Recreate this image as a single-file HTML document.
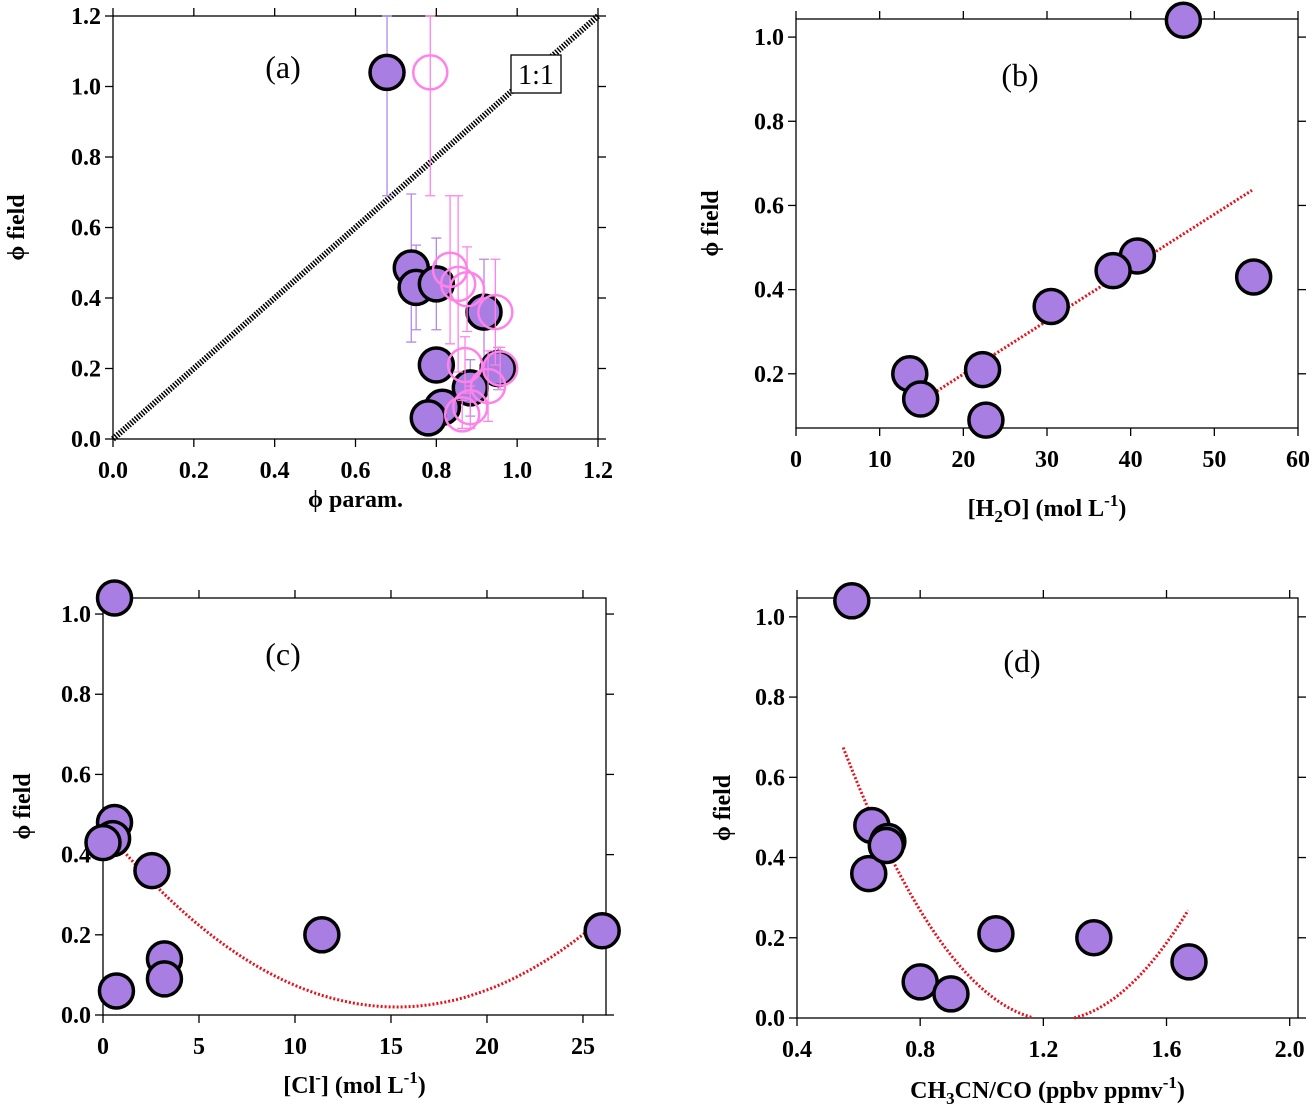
<!DOCTYPE html>
<html><head><meta charset="utf-8"><style>
body{margin:0;background:#fff}
svg{display:block;font-family:"Liberation Serif",serif}
.tl{font-size:24px;font-weight:bold}
.at{font-size:24px;font-weight:bold}
.pl{font-size:32px}
</style></head><body>
<svg id="s" width="1314" height="1114" xmlns="http://www.w3.org/2000/svg"></svg>
<script>
// Panel a data
const aFilledX=[0.678,0.738,0.75,0.80,0.80,0.815,0.78,0.884,0.918,0.953];
const aFilledY=[1.04,0.485,0.43,0.44,0.21,0.09,0.06,0.145,0.36,0.20];
const aFilledErr=[0.35,0.21,0.12,0.13,0.05,0.03,0.03,0.08,0.15,0.06];
const aOpenX=[0.785,0.834,0.854,0.876,0.946,0.871,0.864,0.928,0.958,0.884];
const aOpenY=[1.04,0.48,0.44,0.425,0.36,0.21,0.07,0.15,0.20,0.09];
const aOpenErr=[0.35,0.21,0.25,0.12,0.15,0.08,0.04,0.1,0.06,0.06];
// Panel b
const bX=[46.3,54.7,40.8,37.9,30.5,22.3,22.7,13.6,14.9];
const bY=[1.04,0.43,0.48,0.445,0.36,0.21,0.09,0.20,0.14];
const bFit=[[13.6,0.118],[54.5,0.636]];
// Panel c
const cX=[0.6,0.6,0.5,0,2.55,11.4,26,3.2,3.2,0.7];
const cY=[1.04,0.48,0.44,0.43,0.36,0.20,0.21,0.14,0.09,0.06];
const cFit=[0.00192,15.3,0.02];
// Panel d
const dX=[0.578,0.643,0.633,0.695,0.69,1.046,1.364,1.673,0.80,0.90];
const dY=[1.04,0.48,0.36,0.44,0.43,0.21,0.20,0.14,0.09,0.06];
const dFit=[1.45,1.235,-0.006];

const S=document.getElementById('s');const NS='http://www.w3.org/2000/svg';
function el(t,a,p){const e=document.createElementNS(NS,t);for(const k in a)e.setAttribute(k,a[k]);(p||S).appendChild(e);return e;}
function panel(o){
 const g=el('g',{});
 
 
 const sx=v=>o.L+(v-o.x0)/(o.x1-o.x0)*(o.R-o.L);
 const sy=v=>o.B-(v-o.y0)/(o.y1-o.y0)*(o.B-o.T);
 const f=el('rect',{x:o.L,y:o.T,width:o.R-o.L,height:o.B-o.T,fill:'none',stroke:'#000','stroke-width':1.3},g);
 
 o.xt.forEach(v=>{const x=sx(v);
  el('line',{x1:x,x2:x,y1:o.B,y2:o.B+8,stroke:'#000','stroke-width':1.3},g);
  el('line',{x1:x,x2:x,y1:o.T,y2:o.T-8,stroke:'#000','stroke-width':1.3},g);
  const t=el('text',{x:x,y:o.B+39,'text-anchor':'middle',class:'tl'},g);t.textContent=o.xf(v);
  });
 o.yt.forEach(v=>{const y=sy(v);
  el('line',{x1:o.L,x2:o.L-8,y1:y,y2:y,stroke:'#000','stroke-width':1.3},g);
  el('line',{x1:o.R,x2:o.R+8,y1:y,y2:y,stroke:'#000','stroke-width':1.3},g);
  const t=el('text',{x:o.L-12,y:y+8,'text-anchor':'end',class:'tl'},g);t.textContent=v.toFixed(1);
  });
 const yl=el('text',{transform:`translate(${o.yx},${(o.T+o.B)/2}) rotate(-90)`,'text-anchor':'middle',class:'at'},g);
 yl.textContent='ϕ field';
 const xl=el('text',{x:(o.L+o.R)/2,y:o.B+o.xly,'text-anchor':'middle',class:'at'},g);
 xl.innerHTML=o.xlab;
 const pl=el('text',{x:o.plx,y:o.ply,'text-anchor':'middle',class:'pl'},g);pl.textContent='('+o.id+')';
 
 return {g,sx,sy};
}
function dot(g,x,y,name){const c=el('circle',{cx:x,cy:y,r:17,fill:'#a97ee3',stroke:'#000','stroke-width':3.5},g);
 }
function curve(g,sx,sy,fn,a,b,name,clip){let d='';let pen=false;for(let i=0;i<=200;i++){const x=a+(b-a)*i/200,y=fn(x);
 if(y<clip){pen=false;continue;}d+=(pen?'L':'M')+sx(x).toFixed(1)+','+sy(y).toFixed(1);pen=true;}
 const p=el('path',{d,fill:'none',stroke:'#e8101a','stroke-width':3,'stroke-dasharray':'2 2'},g);
 }

// (a)
let P=panel({id:'a',L:113,R:598,T:16,B:439,x0:0,x1:1.2,y0:0,y1:1.2,xt:[0,0.2,0.4,0.6,0.8,1.0,1.2],yt:[0,0.2,0.4,0.6,0.8,1.0,1.2],xf:v=>v.toFixed(1),yx:24,xly:68,xlab:'ϕ param.',plx:283,ply:78});
const PA=P;
let l=el('line',{x1:P.sx(0),y1:P.sy(0),x2:P.sx(1.2),y2:P.sy(1.2),stroke:'#000','stroke-width':6,'stroke-dasharray':'1.5 1.5'},P.g);

let bx=el('rect',{x:511,y:55,width:50,height:38,fill:'#fff',stroke:'#000','stroke-width':1.3},P.g);

let bt=el('text',{x:536,y:84,'text-anchor':'middle','font-size':28},P.g);bt.textContent='1:1';

function ebar(g,xv,yv,e,col){const x=PA.sx(xv),t=PA.sy(Math.min(yv+e,1.2)),b=PA.sy(Math.max(yv-e,0));
 const p=el('path',{d:`M${x},${t}V${b}M${x-5},${t}H${x+5}M${x-5},${b}H${x+5}`,stroke:col,'stroke-width':1.3,fill:'none'},g);
 }
aFilledX.forEach((v,i)=>ebar(P.g,v,aFilledY[i],aFilledErr[i],'#b28ae8'));
aFilledX.forEach((v,i)=>dot(P.g,P.sx(v),P.sy(aFilledY[i]),'filled-point'));
aOpenX.forEach((v,i)=>ebar(P.g,v,aOpenY[i],aOpenErr[i],'#ff82e8'));
aOpenX.forEach((v,i)=>{const c=el('circle',{cx:P.sx(v),cy:P.sy(aOpenY[i]),r:17,fill:'none',stroke:'#ff82e8','stroke-width':2.5},P.g);
 });

// (b)
P=panel({id:'b',L:796,R:1298,T:19,B:428,x0:0,x1:60,y0:0.0712,y1:1.043,xt:[0,10,20,30,40,50,60],yt:[0.2,0.4,0.6,0.8,1.0],xf:v=>String(v),yx:718,xly:88,xlab:'[H<tspan dy="6" font-size="17">2</tspan><tspan dy="-6">O] (mol L</tspan><tspan dy="-10" font-size="17">-1</tspan><tspan dy="10">)</tspan>',plx:1020,ply:86});
curve(P.g,P.sx,P.sy,x=>bFit[0][1]+(x-bFit[0][0])*(bFit[1][1]-bFit[0][1])/(bFit[1][0]-bFit[0][0]),bFit[0][0],bFit[1][0],'linear-fit',-9);
bX.forEach((v,i)=>dot(P.g,P.sx(v),P.sy(bY[i]),'data-point'));

// (c)
P=panel({id:'c',L:103,R:606,T:598,B:1015,x0:0,x1:26.2,y0:0,y1:1.04,xt:[0,5,10,15,20,25],yt:[0,0.2,0.4,0.6,0.8,1.0],xf:v=>String(v),yx:30,xly:78,xlab:'[Cl<tspan dy="-10" font-size="17">-</tspan><tspan dy="10">] (mol L</tspan><tspan dy="-10" font-size="17">-1</tspan><tspan dy="10">)</tspan>',plx:283,ply:665});
curve(P.g,P.sx,P.sy,x=>cFit[0]*(x-cFit[1])**2+cFit[2],0,25.8,'quadratic-fit',-9);
cX.forEach((v,i)=>dot(P.g,P.sx(v),P.sy(cY[i]),'data-point'));

// (d)
P=panel({id:'d',L:797,R:1298,T:598,B:1018,x0:0.4,x1:2.027,y0:0,y1:1.047,xt:[0.4,0.8,1.2,1.6,2.0],yt:[0,0.2,0.4,0.6,0.8,1.0],xf:v=>v.toFixed(1),yx:730,xly:80,xlab:'CH<tspan dy="6" font-size="17">3</tspan><tspan dy="-6">CN/CO (ppbv ppmv</tspan><tspan dy="-10" font-size="17">-1</tspan><tspan dy="10">)</tspan>',plx:1022,ply:672});
curve(P.g,P.sx,P.sy,x=>dFit[0]*(x-dFit[1])**2+dFit[2],0.55,1.67,'quadratic-fit',0);
dX.forEach((v,i)=>dot(P.g,P.sx(v),P.sy(dY[i]),'data-point'));
</script>
</body></html>
